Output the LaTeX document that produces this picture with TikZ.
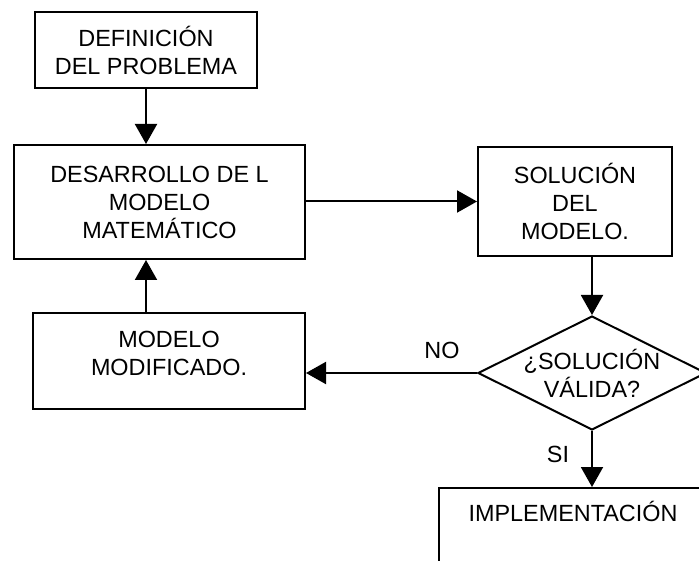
\documentclass[tikz,border=0pt]{standalone}
\usepackage{fontspec}
\setmainfont{Liberation Sans}
\usetikzlibrary{shapes.geometric,arrows.meta}
\tikzset{Caja/.style = {draw, line width=2pt, align=center, font=\fontsize{23.4}{28}\selectfont},
Texto/.style = {align=center, font=\fontsize{23.4}{28}\selectfont},
Flecha/.style = {line width=2pt, -{Triangle[length=20pt,width=22pt]}}}

\begin{document}
\begin{tikzpicture}[x=1pt,y=-1pt]
\useasboundingbox (0,0) rectangle (699,561);
\clip (0,0) rectangle (699,561);
\node[Caja,minimum width=222,minimum height=76] (def) at (146,50) {DEFINICIÓN\\DEL PROBLEMA};
\node[Caja,minimum width=291,minimum height=114] (des) at (159.5,202) {DESARROLLO DE L\\MODELO\\MATEMÁTICO};
\node[Caja,minimum width=194,minimum height=109] (sol) at (575,201.5) {SOLUCIÓN\\DEL\\MODELO.};
\node[Caja,minimum width=272,minimum height=96,text depth=16pt] (mod) at (169,361) {MODELO\\MODIFICADO.};
\node[draw,line width=2pt,diamond,minimum width=228,minimum height=114,inner sep=0] (dec) at (592,373) {};
\node[Texto] (pre) at (dec) {¿SOLUCIÓN\\VÁLIDA?};
\node[Caja,anchor=north west,minimum width=268,inner ysep=13pt,text depth=90pt] (imp) at (438,487) {IMPLEMENTACIÓN};
\node[Texto] (no) at (442,350) {NO};
\node[Texto] (si) at (558,454) {SI};
\draw[Flecha] (def.south) -- (def.south |- des.north);
\draw[Flecha] (des.east |- sol.west) -- (sol.west);
\draw[Flecha] (dec.north |- sol.south) -- (dec.north);
\draw[Flecha] (dec.west) -- (dec.west -| mod.east);
\draw[Flecha] (mod.north -| def.south) -- (des.south -| def.south);
\draw[Flecha] (dec.south) -- (dec.south |- imp.north);
\end{tikzpicture}
\end{document}
